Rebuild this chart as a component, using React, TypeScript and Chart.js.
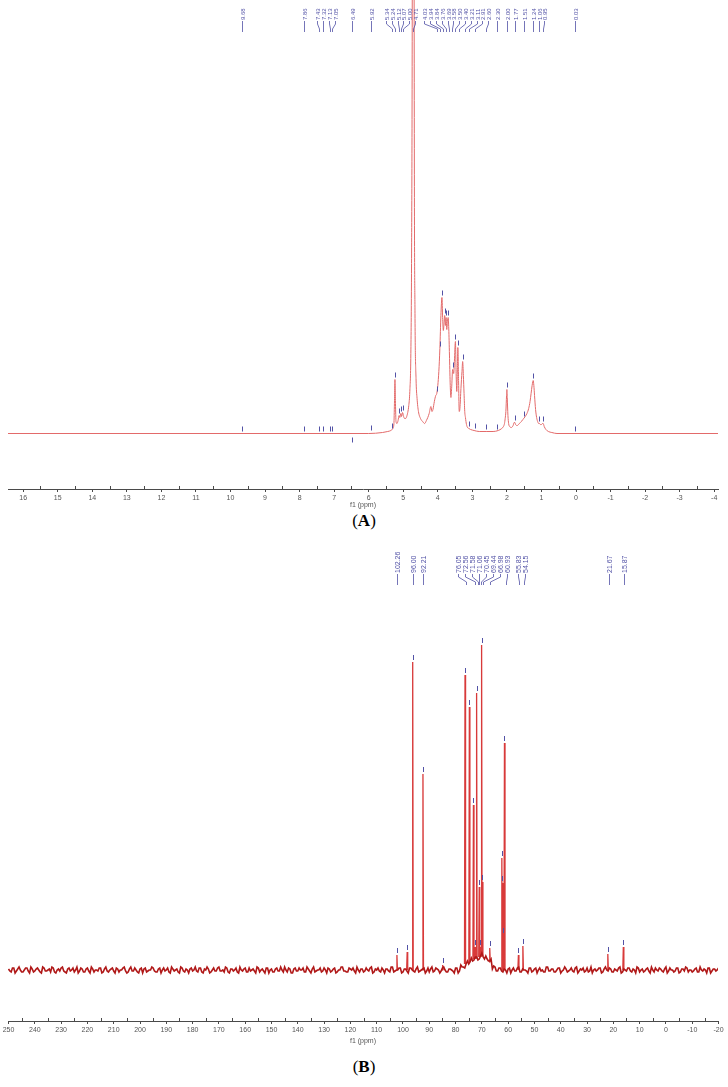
import React, { useEffect, useRef } from 'react';
import { Chart, registerables } from 'chart.js';

Chart.register(...registerables);

// ================= Panel A : 1H NMR =================
const hShift = [16.45, 6.0, 5.6, 5.45, 5.36, 5.30, 5.27, 5.255, 5.24, 5.225, 5.21, 5.18, 5.15, 5.12, 5.10, 5.07, 5.05, 5.02, 4.99, 4.96, 4.93, 4.90, 4.87, 4.84, 4.81, 4.78, 4.76, 4.74, 4.72, 4.71, 4.70, 4.68, 4.66, 4.63, 4.60, 4.56, 4.50, 4.44, 4.38, 4.33, 4.29, 4.25, 4.20, 4.17, 4.14, 4.10, 4.06, 4.03, 4.00, 3.97, 3.94, 3.91, 3.88, 3.86, 3.84, 3.82, 3.80, 3.78, 3.76, 3.74, 3.72, 3.70, 3.68, 3.66, 3.64, 3.62, 3.60, 3.57, 3.54, 3.52, 3.49, 3.47, 3.45, 3.43, 3.42, 3.40, 3.38, 3.36, 3.33, 3.30, 3.28, 3.26, 3.24, 3.22, 3.20, 3.17, 3.14, 3.10, 3.05, 2.95, 2.80, 2.60, 2.40, 2.25, 2.15, 2.10, 2.07, 2.05, 2.03, 2.01, 2.00, 1.99, 1.97, 1.95, 1.92, 1.87, 1.82, 1.79, 1.77, 1.75, 1.70, 1.64, 1.58, 1.54, 1.51, 1.47, 1.42, 1.37, 1.33, 1.30, 1.27, 1.25, 1.24, 1.22, 1.20, 1.17, 1.14, 1.11, 1.08, 1.06, 1.03, 1.00, 0.97, 0.95, 0.92, 0.87, 0.80, 0.70, 0.55, -4.2];
const hInt = [0, 0, 1, 2, 3, 5, 10, 30, 54, 30, 12, 10, 13, 18, 16, 20, 17, 21, 17, 15, 15, 17, 21, 28, 42, 80, 170, 420, 1100, 1500, 1100, 300, 120, 55, 35, 22, 15, 12, 10, 13, 16, 20, 27, 22, 24, 32, 38, 40, 48, 62, 85, 118, 136, 116, 103, 110, 118, 108, 116, 104, 112, 116, 102, 75, 48, 36, 45, 64, 60, 72, 92, 60, 42, 70, 86, 55, 22, 25, 45, 62, 72, 58, 40, 22, 16, 9, 6, 5, 4, 3, 2, 2, 2, 3, 5, 7, 10, 15, 22, 38, 44, 36, 18, 10, 7, 6, 8, 11, 11, 9, 8, 10, 12, 14, 15, 17, 20, 25, 32, 40, 48, 52, 53, 48, 38, 24, 16, 12, 10, 10, 9, 9, 10, 10, 7, 4, 2, 1, 0, 0];

const hLabels = ['9.68', '7.86', '7.43', '7.32', '7.13', '7.05', '6.49', '5.92', '5.34', '5.24', '5.12', '5.07', '5.00', '4.71', '4.03', '3.94', '3.84', '3.76', '3.69', '3.58', '3.50', '3.40', '3.21', '3.11', '2.91', '2.60', '2.30', '2.00', '1.77', '1.51', '1.24', '1.06', '0.95', '0.03'];
const hPeakShift = [9.68, 7.86, 7.43, 7.32, 7.13, 7.05, 6.49, 5.92, 5.34, 5.24, 5.12, 5.07, 5.00, 4.03, 3.94, 3.88, 3.80, 3.76, 3.70, 3.57, 3.49, 3.42, 3.28, 3.11, 2.91, 2.60, 2.30, 2.00, 1.77, 1.51, 1.24, 1.06, 0.95, 0.03];
const hPeakInt = [0, 0, 0, 0, 0, 0, -11, 1, 3, 54, 18, 20, 21, 40, 85, 136, 118, 116, 116, 64, 92, 86, 72, 5, 3, 2, 2, 44, 11, 15, 53, 10, 10, 0];
const hTicks = [16, 15, 14, 13, 12, 11, 10, 9, 8, 7, 6, 5, 4, 3, 2, 1, 0, -1, -2, -3, -4];

// ================= Panel B : 13C NMR =================
// baseline noise, one value per ppm from 250 down to -20
const cNoise = [
  1, -2, 2, -1, 3, -2, 0, 2, -3, 1, -1, 2, -2, 3, -1, 0, -2, 2, -3, 1,
  2, -1, -3, 2, 0, -2, 3, -1, 1, -2, 2, -3, 1, 0, -1, 2, -2, 3, -2, 1,
  -1, 2, -2, 0, 3, -3, 1, -1, 2, -2, 1, -3, 2, -1, 0, 2, -2, 1, -3, 2,
  0, -2, 3, -1, 1, -3, 2, -2, 0, 1, -1, 3, -2, 2, -3, 0, 1, -2, 2, -1,
  3, -1, -2, 2, -3, 1, 0, -2, 3, -1, 2, -2, -1, 1, -3, 2, 0, -1, 2, -3,
  1, -2, 2, -1, 0, 3, -2, 1, -3, 2, -1, 0, 2, -2, 1, -3, 3, -1, 0, -2,
  2, -3, 1, -1, 2, -2, 0, 3, -1, -2, 1, 2, -3, 0, 1, -2, 2, -1, 3, -2,
  0, -1, 2, -3, 1, -2, 3, -1, 0, 2, -2, 1, -3, 2, -1, 1, -2, 0, 2, -1,
  -2, 3, -1, 1, -3, 2, 0, -2, 1, -1, 2, -3, 3, -1, 0, -2, 2, -1, 1, -2,
  3, -2, 0, 1, -3, 2, -1, 2, -2, 0, 1, -3, 2, -1, 3, -2, 0, -1, 2, -2,
  1, -3, 2, 0, -2, 3, -1, 1, -2, 2, -3, 0, 1, -1, 2, -2, 3, -1, 0, -2,
  2, -1, -3, 1, 0, 2, -2, 3, -1, 1, -2, 0, 2, -3, 1, -1, 2, -2, 0, 3,
  -2, 1, -1, 2, -3, 0, 2, -1, 1, -2, 3, -1, 0, -2, 2, -3, 1, -1, 2, 0, -2,
  1, -2, 3, -1, 0, 2, -3, 1, -1, 2,
];
const cNoiseFirst = 250;
// second noise trace, one value per ppm from 249.5 down to -19.5
const cNoiseHalf = [
  -1, 2, -3, 1, 0, -2, 2, -1, 3, -2, 1, 0, -3, 2, -1, 1, 3, -2, 0, -1,
  3, -2, 1, -1, 2, 0, -3, 2, -2, 1, -1, 3, -2, 0, 2, -3, 1, -1, 0, 2,
  -3, 1, 0, 2, -1, -2, 3, -1, 0, -3, 2, 1, -2, 0, 3, -1, -2, 2, 0, -1,
  2, -3, 1, 0, -2, 3, -1, 1, -3, 2, 0, -1, 2, -2, 1, 3, -3, 0, -1, 2,
  -1, 0, 3, -2, 1, -1, 2, -3, 0, 1, -2, 2, 0, -1, 3, -2, 1, -3, 2, 0,
  -2, 1, -1, 3, -2, 0, 2, -3, 1, -1, 2, 0, -2, 3, -1, 1, -2, 0, 2, -1,
  0, 2, -2, 1, -3, 0, 3, -1, -2, 2, 0, -1, 3, -2, 1, -1, 0, 2, -3, 1,
  2, -2, 0, 1, -1, 3, -2, 0, 2, -3, 1, -1, 2, 0, -2, 3, -1, 1, -3, 2,
  1, -2, 2, 0, -1, 3, -2, 1, 0, -3, 2, -1, 1, -2, 3, 0, -1, 2, -2, 1,
  -1, 1, -2, 3, 0, -2, 2, -1, 1, -3, 2, 0, -1, 2, -2, 1, 0, -3, 2, -1,
  2, 0, -1, -2, 3, -1, 1, -2, 0, 2, -1, 3, -2, 0, -1, 2, -3, 1, 2, -1,
  -2, 3, 0, -1, 2, -3, 1, 0, 2, -2, 1, -1, 3, -2, 0, 2, -1, 1, -3, 2,
  0, -2, 1, -1, 3, -2, 0, 2, -1, 1, -3, 2, 0, -1, 2, -2, 1, 3, -2, 0,
  -1, 2, -2, 0, 1, -3, 2, -1, 1, 0,
];
const cNoiseHalfFirst = 249.5;
// broad sugar hump under 79..65 ppm (one value per ppm)
const cHumpShift = [79, 78, 77, 76, 75, 74, 73, 72, 71, 70, 69, 68, 67, 66, 65];
const cHumpInt = [0, 2, 4, 6, 8, 10, 11, 12, 13, 14, 13, 11, 8, 4, 1];

const cPeakShift = [102.3, 98.4, 96.3, 92.4, 84.9, 76.4, 74.75, 73.2, 72.6, 72.0, 71.0, 70.6, 70.1, 69.8, 67.0, 62.4, 62.2, 62.0, 61.4, 56.1, 54.4, 22.1, 16.2];
const cPeakInt = [15, 18, 308, 196, 5, 295, 263, 165, 23, 277, 83, 23, 325, 88, 22, 112, 87, 35, 227, 15, 24, 16, 23];
const cLabels = ['102.26', '96.00', '92.21', '76.05', '72.56', '71.58', '71.06', '70.45', '69.44', '66.98', '60.93', '55.83', '54.15', '21.67', '15.87'];
const cTicks = [250, 240, 230, 220, 210, 200, 190, 180, 170, 160, 150, 140, 130, 120, 110, 100, 90, 80, 70, 60, 50, 40, 30, 20, 10, 0, -10, -20];

// ================= helpers =================
const LABEL_BLUE = '#5252a6';
const AXIS_COLOR = '#4a4a4a';

function spread(px: number[], gap: number): number[] {
  const order = px.map((_, i) => i).sort((a, b) => px[a] - px[b]);
  let groups = order.map((i) => ({ idx: [i], center: px[i] }));
  let changed = true;
  while (changed) {
    changed = false;
    for (let i = 0; i < groups.length - 1; i++) {
      const a = groups[i];
      const b = groups[i + 1];
      const aEnd = a.center + ((a.idx.length - 1) / 2) * gap;
      const bStart = b.center - ((b.idx.length - 1) / 2) * gap;
      if (bStart - aEnd < gap) {
        const idx = a.idx.concat(b.idx);
        const center = idx.reduce((s, k) => s + px[k], 0) / idx.length;
        groups.splice(i, 2, { idx, center });
        changed = true;
        break;
      }
    }
  }
  const out = new Array(px.length).fill(0);
  groups.forEach((g) => {
    g.idx.forEach((k, j) => {
      out[k] = g.center - ((g.idx.length - 1) / 2) * gap + j * gap;
    });
  });
  return out;
}

function peakLabelPlugin(id: string, labels: string[], gap: number, fontSize: number, textBottom: number) {
  return {
    id,
    afterDraw(chart: any) {
      const { ctx, chartArea, scales } = chart;
      const xs = scales.x;
      const truePx = labels.map((l) => xs.getPixelForValue(parseFloat(l)));
      const pos = spread(truePx, gap);
      ctx.save();
      ctx.font = `${fontSize}px "Liberation Sans"`;
      ctx.fillStyle = LABEL_BLUE;
      ctx.strokeStyle = LABEL_BLUE;
      ctx.lineWidth = 0.8;
      const y0 = chartArea.top + textBottom;
      labels.forEach((lab, i) => {
        const lx = Math.round(pos[i]) + 0.5;
        const tx = Math.round(truePx[i]) + 0.5;
        ctx.save();
        ctx.translate(lx + fontSize * 0.36, y0);
        ctx.rotate(-Math.PI / 2);
        ctx.textAlign = 'left';
        ctx.textBaseline = 'alphabetic';
        ctx.fillText(lab, 0, 0);
        ctx.restore();
        ctx.beginPath();
        ctx.moveTo(lx, y0 + 1);
        ctx.lineTo(lx, y0 + 4);
        ctx.lineTo(tx, y0 + 9);
        ctx.lineTo(tx, y0 + 12);
        ctx.stroke();
      });
      ctx.restore();
    },
  };
}

function peakMarkerPlugin(id: string, shifts: number[], ints: number[]) {
  return {
    id,
    afterDatasetsDraw(chart: any) {
      const { ctx, scales } = chart;
      ctx.save();
      ctx.strokeStyle = LABEL_BLUE;
      ctx.lineWidth = 1;
      shifts.forEach((s, i) => {
        const x = Math.round(scales.x.getPixelForValue(s)) + 0.5;
        const yb = scales.y.getPixelForValue(ints[i]);
        ctx.beginPath();
        ctx.moveTo(x, yb - 2);
        ctx.lineTo(x, yb - 7);
        ctx.stroke();
      });
      ctx.restore();
    },
  };
}

function minorTickPlugin(id: string, majors: number[]) {
  return {
    id,
    afterDraw(chart: any) {
      const { ctx, chartArea, scales } = chart;
      ctx.save();
      ctx.strokeStyle = AXIS_COLOR;
      ctx.lineWidth = 1;
      for (let i = 0; i < majors.length - 1; i++) {
        const v = (majors[i] + majors[i + 1]) / 2;
        const x = Math.round(scales.x.getPixelForValue(v)) + 0.5;
        ctx.beginPath();
        ctx.moveTo(x, chartArea.bottom);
        ctx.lineTo(x, chartArea.bottom - 3);
        ctx.stroke();
      }
      ctx.restore();
    },
  };
}

function makeConfig(opt: any): any {
  return {
    type: 'line',
    data: {
      datasets: opt.datasets.map((d: any) => ({
        data: d.points,
        borderColor: d.color,
        borderWidth: d.lineWidth,
        pointRadius: 0,
        fill: false,
        tension: 0,
        spanGaps: false,
        cubicInterpolationMode: d.monotone ? 'monotone' : 'default',
      })),
    },
    options: {
      responsive: false,
      animation: false,
      events: [],
      layout: { padding: { left: 8, right: 10, top: 0, bottom: 0 } },
      plugins: { legend: { display: false }, tooltip: { enabled: false }, title: { display: false } },
      scales: {
        x: {
          type: 'linear',
          reverse: true,
          min: opt.xmin,
          max: opt.xmax,
          afterBuildTicks: (scale: any) => {
            scale.ticks = opt.ticks.map((v: number) => ({ value: v }));
          },
          afterFit: (scale: any) => {
            scale.height = opt.axisHeight;
          },
          ticks: {
            autoSkip: false,
            maxRotation: 0,
            padding: 2,
            color: '#555',
            font: { family: 'Liberation Sans', size: 7 },
            callback: (v: number) => String(v),
          },
          grid: { drawOnChartArea: false, drawTicks: true, tickLength: 3, color: AXIS_COLOR, lineWidth: 1 },
          border: { display: true, color: AXIS_COLOR, width: 1 },
          title: {
            display: true,
            text: 'f1 (ppm)',
            color: '#555',
            font: { family: 'Liberation Sans', size: 7 },
            padding: { top: 0, bottom: 0 },
          },
        },
        y: { display: false, min: opt.ymin, max: opt.ymax },
      },
    },
    plugins: opt.plugins,
  };
}

function buildA() {
  return hShift.map((s, i) => ({ x: s, y: hInt[i] }));
}

function humpAt(ppm: number): number {
  const k = cHumpShift.indexOf(Math.round(ppm));
  return k >= 0 ? cHumpInt[k] : 0;
}

function buildBNoise() {
  const pts: { x: number; y: number }[] = [];
  cNoise.forEach((n, i) => {
    const s = cNoiseFirst - i;
    pts.push({ x: s, y: n + humpAt(s) });
  });
  cNoiseHalf.forEach((n, i) => {
    const s = cNoiseHalfFirst - i;
    pts.push({ x: s, y: n + humpAt(s) });
  });
  pts.sort((a, b) => b.x - a.x);
  return pts;
}

function buildBPeaks() {
  const pts: { x: number; y: number | null }[] = [];
  cPeakShift.forEach((p, i) => {
    const base = humpAt(p);
    pts.push({ x: p + 0.2, y: base });
    pts.push({ x: p, y: cPeakInt[i] });
    pts.push({ x: p - 0.2, y: base });
    pts.push({ x: p - 0.21, y: null });
  });
  return pts;
}

const A_H = 509;
const B_TOP = 540;
const B_H = 505;

export default function App() {
  const refA = useRef<HTMLCanvasElement>(null);
  const refB = useRef<HTMLCanvasElement>(null);

  useEffect(() => {
    const chartA = new Chart(
      refA.current as HTMLCanvasElement,
      makeConfig({
        datasets: [{ points: buildA(), color: '#e36a6a', lineWidth: 1, monotone: true }],
        xmin: -4.11,
        xmax: 16.44,
        ymin: -55.5,
        ymax: 433.5,
        ticks: hTicks,
        axisHeight: 20,
        plugins: [
          minorTickPlugin('minorA', hTicks),
          peakMarkerPlugin('markA', hPeakShift, hPeakInt),
          peakLabelPlugin('labA', hLabels, 5.8, 6, 20),
        ],
      })
    );
    const chartB = new Chart(
      refB.current as HTMLCanvasElement,
      makeConfig({
        datasets: [
          { points: buildBNoise(), color: '#b01818', lineWidth: 1.6, monotone: false },
          { points: buildBPeaks(), color: '#d83a3a', lineWidth: 1.3, monotone: false },
        ],
        xmin: -19.8,
        xmax: 250.2,
        ymin: -51,
        ymax: 430,
        ticks: cTicks,
        axisHeight: 24,
        plugins: [
          minorTickPlugin('minorB', cTicks),
          peakMarkerPlugin('markB', cPeakShift, cPeakInt),
          peakLabelPlugin('labB', cLabels, 7, 7, 33),
        ],
      })
    );
    return () => {
      chartA.destroy();
      chartB.destroy();
    };
  }, []);

  const caption: React.CSSProperties = {
    position: 'absolute',
    left: 0,
    width: 728,
    textAlign: 'center',
    fontFamily: '"Liberation Serif", serif',
    fontSize: 17,
    lineHeight: '20px',
    color: '#000',
  };

  return (
    <div style={{ position: 'absolute', left: 0, top: 0, width: 728, height: 1087, background: '#fff', overflow: 'hidden' }}>
      <canvas ref={refA} width={728} height={A_H} style={{ position: 'absolute', left: 0, top: 0, width: 728, height: A_H }} />
      <div style={{ ...caption, top: 511 }}>
        (<b>A</b>)
      </div>
      <canvas ref={refB} width={728} height={B_H} style={{ position: 'absolute', left: 0, top: B_TOP, width: 728, height: B_H }} />
      <div style={{ ...caption, top: 1057 }}>
        (<b>B</b>)
      </div>
    </div>
  );
}
